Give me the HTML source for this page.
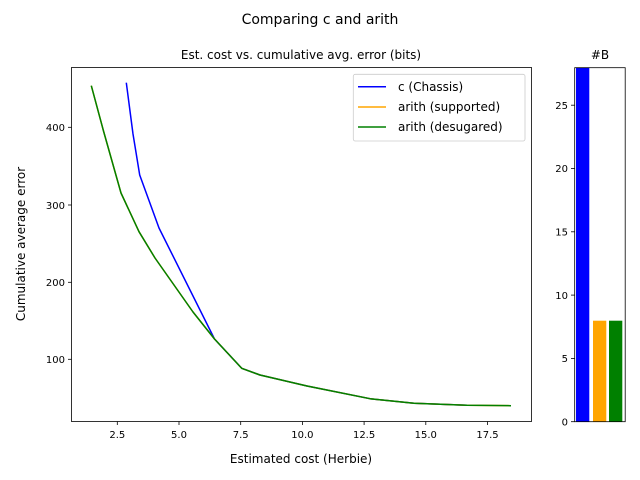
<!DOCTYPE html>
<html><head><style>body{margin:0;background:#fff}svg{display:block}text{font-family:"DejaVu Sans","Liberation Sans",sans-serif;fill:#000}</style></head><body>
<svg width="640" height="480" viewBox="0 0 640 480">
<text x="320" y="24" font-size="14" text-anchor="middle">Comparing c and arith</text>
<text x="301" y="59" font-size="12" text-anchor="middle">Est. cost vs. cumulative avg. error (bits)</text>
<g fill="none" stroke-width="1.5" stroke-linejoin="round">
<polyline stroke="#0000ff" points="126.3,82.7 133,134 139.7,175 159,228 214.5,339 241.7,368.3 260,375 307,386 370,398.7 414,403.3 467,405.3"/>
<polyline stroke="#ffa500" points="91.3,85.7 103.5,131 121,193 139,231.7 155,258 193,312 214.5,339 241.7,368.3 260,375 307,386 370,398.7 414,403.3 467,405.3 511,405.7"/>
<polyline stroke="#008000" points="91.3,85.7 103.5,131 121,193 139,231.7 155,258 193,312 214.5,339 241.7,368.3 260,375 307,386 370,398.7 414,403.3 467,405.3 511,405.7"/>
</g>
<rect x="71.5" y="67.5" width="460" height="354" fill="none" stroke="#000" stroke-width="0.8"/>
<g stroke="#000" stroke-width="0.8">
<line x1="117.3" y1="421.5" x2="117.3" y2="425"/><line x1="179" y1="421.5" x2="179" y2="425"/><line x1="240.7" y1="421.5" x2="240.7" y2="425"/><line x1="302.4" y1="421.5" x2="302.4" y2="425"/><line x1="364.1" y1="421.5" x2="364.1" y2="425"/><line x1="425.8" y1="421.5" x2="425.8" y2="425"/><line x1="487.5" y1="421.5" x2="487.5" y2="425"/>
<line x1="68" y1="127.3" x2="71.5" y2="127.3"/><line x1="68" y1="205" x2="71.5" y2="205"/><line x1="68" y1="282.3" x2="71.5" y2="282.3"/><line x1="68" y1="359.3" x2="71.5" y2="359.3"/>
</g>
<g font-size="10" text-anchor="middle">
<text x="117.3" y="438">2.5</text><text x="179" y="438">5.0</text><text x="240.7" y="438">7.5</text><text x="302.4" y="438">10.0</text><text x="364.1" y="438">12.5</text><text x="425.8" y="438">15.0</text><text x="487.5" y="438">17.5</text>
</g>
<g font-size="10" text-anchor="end">
<text x="65" y="131">400</text><text x="65" y="209">300</text><text x="65" y="286">200</text><text x="65" y="363">100</text>
</g>
<text x="301" y="463" font-size="12" text-anchor="middle">Estimated cost (Herbie)</text>
<text transform="translate(25,244) rotate(-90)" font-size="12" text-anchor="middle">Cumulative average error</text>
<rect x="353.3" y="74.3" width="171.7" height="66.7" rx="2" fill="#fff" fill-opacity="0.8" stroke="#ccc" stroke-width="0.8"/>
<line x1="358" y1="86.7" x2="386" y2="86.7" stroke="#0000ff" stroke-width="1.5"/>
<line x1="358" y1="107" x2="386" y2="107" stroke="#ffa500" stroke-width="1.5"/>
<line x1="358" y1="127" x2="386" y2="127" stroke="#008000" stroke-width="1.5"/>
<g font-size="12"><text x="398" y="91">c (Chassis)</text><text x="398" y="111">arith (supported)</text><text x="398" y="131">arith (desugared)</text></g>
<text x="600" y="59" font-size="12" text-anchor="middle">#B</text>
<rect x="576" y="67.7" width="13.3" height="354" fill="#0000ff"/>
<rect x="593" y="320.7" width="13.3" height="101" fill="#ffa500"/>
<rect x="609" y="320.7" width="13.3" height="101" fill="#008000"/>
<rect x="574.7" y="67.7" width="50.5" height="354" fill="none" stroke="#000" stroke-width="0.8"/>
<g stroke="#000" stroke-width="0.8">
<line x1="571" y1="421.7" x2="574.7" y2="421.7"/><line x1="571" y1="358.4" x2="574.7" y2="358.4"/><line x1="571" y1="295.1" x2="574.7" y2="295.1"/><line x1="571" y1="231.8" x2="574.7" y2="231.8"/><line x1="571" y1="168.5" x2="574.7" y2="168.5"/><line x1="571" y1="105.2" x2="574.7" y2="105.2"/>
</g>
<g font-size="10" text-anchor="end">
<text x="568" y="425.5">0</text><text x="568" y="362">5</text><text x="568" y="299">10</text><text x="568" y="235.5">15</text><text x="568" y="172">20</text><text x="568" y="109">25</text>
</g>
</svg>
</body></html>
